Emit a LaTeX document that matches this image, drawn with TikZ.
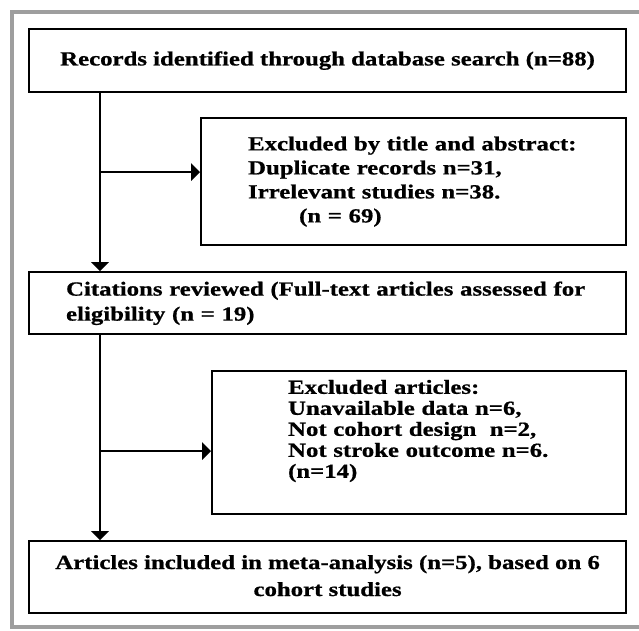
\documentclass[tikz,border=0pt]{standalone}
\usepackage{fontspec}
\setmainfont{Liberation Serif}[FakeStretch=1.24,FakeBold=0.8]
\usetikzlibrary{arrows}
\definecolor{framegray}{RGB}{158,158,158}

\begin{document}
\begin{tikzpicture}[x=1pt, y=-1pt, >=triangle 90,
  stage/.style={draw, line width=2.2pt, anchor=north west, inner ysep=0pt,
    font=\fontsize{20}{24}\selectfont\bfseries},
  flow/.style={->, line width=2.2pt}]
\useasboundingbox (0,0) rectangle (639,630);
\draw [framegray, line width=4pt] (12,11.5) rectangle (660,627);

\node [stage, minimum width=597pt, minimum height=63pt] (records) at (28,28)
  {Records identified through database search (n=88)};
\node [stage, minimum width=425pt, minimum height=127pt, inner xsep=47pt, text width=331pt, align=left] (screened) at (200,117)
  {\begin{tabular}{@{}l@{}}Excluded by title and abstract:\\ Duplicate records n=31,\\ Irrelevant studies n=38.\\ \hspace*{51pt}(n = 69)\end{tabular}};
\node [stage, minimum width=597pt, minimum height=62pt, inner xsep=37pt, text width=523pt, align=left] (fulltext) at (28,271)
  {\fontsize{20}{25}\selectfont\begin{tabular}{@{}l@{}}Citations reviewed (Full-text articles assessed for\\ eligibility (n = 19)\end{tabular}};
\node [stage, minimum width=414pt, minimum height=143pt, inner xsep=76pt, text width=262pt, align=left] (excluded) at (211,370)
  {\fontsize{20}{21}\selectfont\begin{tabular}{@{}l@{}}Excluded articles:\\ Unavailable data n=6,\\ Not cohort design~ n=2,\\ Not stroke outcome n=6.\\ (n=14)\\[22pt]\end{tabular}};
\node [stage, minimum width=597pt, minimum height=72pt, align=center] (included) at (28,540)
  {\fontsize{20}{27}\selectfont\begin{tabular}{@{}c@{}}Articles included in meta-analysis (n=5), based on 6\\ cohort studies\end{tabular}};

\coordinate (splitA) at (100,172);
\coordinate (splitB) at (100,451);
\draw [flow] (records.south -| splitA) -- (fulltext.north -| splitA);
\draw [flow] (splitA) -- (screened.west |- splitA);
\draw [flow] (fulltext.south -| splitB) -- (included.north -| splitB);
\draw [flow] (splitB) -- (excluded.west |- splitB);
\end{tikzpicture}
\end{document}
